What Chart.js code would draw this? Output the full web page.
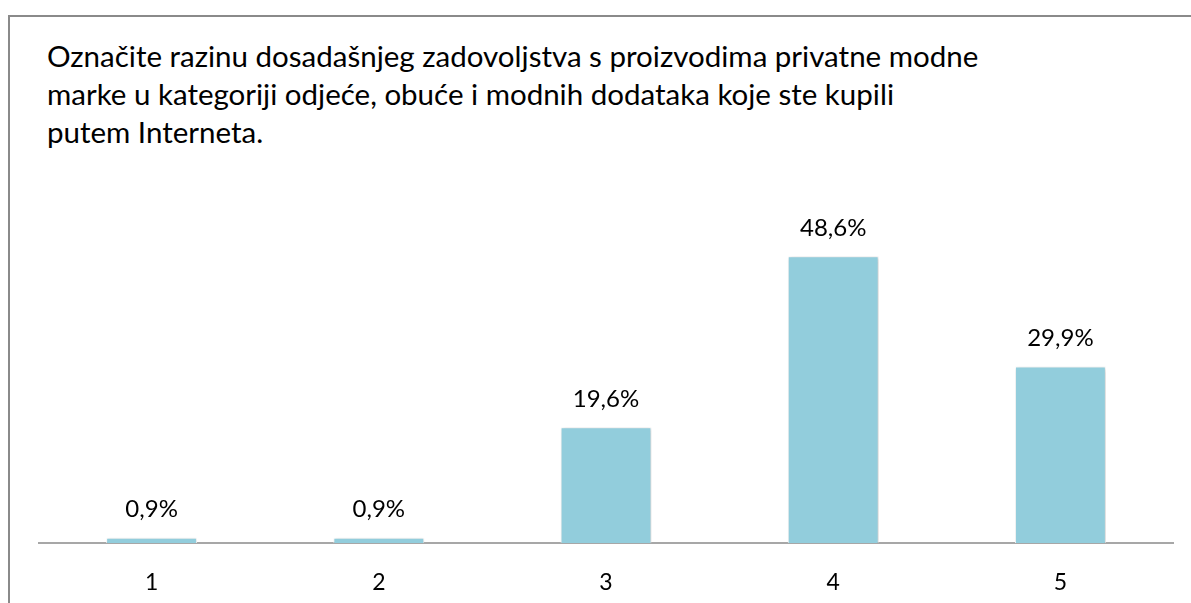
<!DOCTYPE html>
<html>
<head>
<meta charset="utf-8">
<script src="https://cdn.jsdelivr.net/npm/chart.js"></script>
<style>
  html, body { margin: 0; padding: 0; background: #fff; }
  body { width: 1191px; height: 603px; position: relative; overflow: hidden; }
  #frame { position: absolute; left: 8px; top: 15px; width: 1200px; height: 600px;
           border-left: 2px solid #8a8a8a; border-top: 2px solid #8a8a8a; }
  #title { position: absolute; left: 47px; top: 37px; font-family: Lato, sans-serif;
           font-size: 29.5px; line-height: 38px; color: #000; white-space: nowrap; }
  canvas { position: absolute; left: 0; top: 0; }
</style>
</head>
<body>
<div id="frame"></div>
<div id="title">Označite razinu dosadašnjeg zadovoljstva s proizvodima privatne modne<br>marke u kategoriji odjeće, obuće i modnih dodataka koje ste kupili<br>putem Interneta.</div>
<canvas id="chart" width="1191" height="603"></canvas>
<script>
const categories = ["1", "2", "3", "4", "5"];
const shares = [0.9, 0.9, 19.6, 48.6, 29.9];

const barLabels = {
  id: "barLabels",
  beforeDatasetsDraw(chart) {
    const ctx = chart.ctx;
    const area = chart.chartArea;
    // baseline under the bars
    ctx.save();
    ctx.strokeStyle = "#8a8a8a";
    ctx.lineWidth = 1.5;
    ctx.beginPath();
    ctx.moveTo(area.left, area.bottom);
    ctx.lineTo(area.right, area.bottom);
    ctx.stroke();
    ctx.restore();

    // soft shadow round the bars
    ctx.save();
    ctx.shadowColor = "rgba(0,0,0,0.22)";
    ctx.shadowBlur = 4;
    ctx.shadowOffsetX = 1;
    ctx.shadowOffsetY = 1;
  },
  afterDatasetsDraw(chart) {
    const ctx = chart.ctx;
    ctx.restore();
    ctx.save();
    ctx.font = "24px Lato, sans-serif";
    ctx.fillStyle = "#000";
    ctx.textAlign = "center";
    ctx.textBaseline = "middle";
    chart.getDatasetMeta(0).data.forEach((bar, i) => {
      const txt = shares[i].toFixed(1).replace(".", ",") + "%";
      ctx.fillText(txt, bar.x, bar.y - 28);
    });
    ctx.restore();
  }
};

new Chart(document.getElementById("chart"), {
  type: "bar",
  data: {
    labels: categories,
    datasets: [{
      data: shares,
      backgroundColor: "#92cddc",
      borderColor: "#ffffff",
      borderWidth: 1,
      categoryPercentage: 1,
      barPercentage: 0.4
    }]
  },
  options: {
    responsive: false,
    animation: false,
    layout: { padding: { left: 38, right: 17, top: 189, bottom: 0 } },
    plugins: { legend: { display: false }, tooltip: { enabled: false } },
    scales: {
      x: {
        grid: { display: false, drawTicks: false },
        border: { display: false },
        ticks: { color: "#000", font: { family: "Lato", size: 23 }, padding: 26 },
        afterFit(scale) { scale.height = 60; }
      },
      y: { display: false, min: 0, max: 60 }
    }
  },
  plugins: [barLabels]
});
</script>
</body>
</html>
